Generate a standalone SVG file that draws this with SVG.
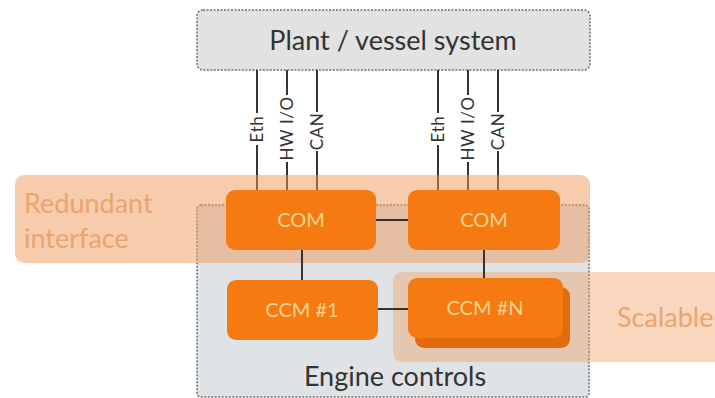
<svg xmlns="http://www.w3.org/2000/svg" width="715" height="398" viewBox="0 0 715 398">
<style>
.sys{fill:#e2e2e2;stroke:#6f6f6f;stroke-width:1.5;stroke-dasharray:2 1.5}
.band{fill:#ee9a5c;fill-opacity:0.5}
.mod{fill:#f57a12}
.shadow{fill:#e26b0c}
.big{font-family:Lato,"Noto Sans",sans-serif;font-size:27px;fill:#333333;text-anchor:middle}
.bandtxt{font-family:Lato,"Noto Sans",sans-serif;font-size:27px;fill:#eda46a}
.modtxt{font-family:Lato,"Noto Sans",sans-serif;font-size:20px;fill:#ffd38e;text-anchor:middle}
.lbl{font-family:Lato,"Noto Sans",sans-serif;font-size:17px;letter-spacing:0.6px;fill:#333333;text-anchor:middle}
.wire{stroke:#333333;stroke-width:2;fill:none}
</style>
<rect x="0" y="0" width="715" height="398" fill="#ffffff"/>
<g id="plant">
<rect class="sys" x="197" y="10" width="393" height="60" rx="6"/>
<text class="big" x="393" y="50">Plant / vessel system</text>
</g>
<g id="io-lines">
<path class="wire" d="M257 70V113M257 145V190M287 70V95M287 162V190M317 70V112M317 151V190M438 70V113M438 145V190M468 70V95M468 162V190M498 70V112M498 151V190"/>
<text class="lbl" transform="translate(257,129) rotate(-90)" x="0" y="6">Eth</text>
<text class="lbl" transform="translate(287,128.5) rotate(-90)" x="0" y="6">HW I/O</text>
<text class="lbl" transform="translate(317,131.5) rotate(-90)" x="0" y="6">CAN</text>
<text class="lbl" transform="translate(438,129) rotate(-90)" x="0" y="6">Eth</text>
<text class="lbl" transform="translate(468,128.5) rotate(-90)" x="0" y="6">HW I/O</text>
<text class="lbl" transform="translate(498,131.5) rotate(-90)" x="0" y="6">CAN</text>
</g>
<g id="engine">
<rect class="sys" x="197" y="205" width="392" height="192" rx="4" style="fill:#dfe3e6"/>
<text class="big" x="395" y="386">Engine controls</text>
</g>
<g id="redundant">
<rect class="band" x="15" y="175" width="575" height="88" rx="9"/>
<text class="bandtxt" x="24" y="213">Redundant</text>
<text class="bandtxt" x="24" y="248">interface</text>
</g>
<g id="scalable">
<rect class="band" x="393" y="272" width="330" height="90" rx="9" style="fill-opacity:0.4"/>
<text class="bandtxt" x="617" y="327">Scalable</text>
</g>
<g id="connectors">
<path class="wire" d="M376 220H408M302 250V280M484 250V278M378 309H408"/>
</g>
<g id="com1">
<rect class="mod" x="226" y="190" width="150" height="60" rx="9"/>
<text class="modtxt" x="301" y="227">COM</text>
</g>
<g id="com2">
<rect class="mod" x="408" y="190" width="152" height="60" rx="9"/>
<text class="modtxt" x="484" y="227">COM</text>
</g>
<g id="ccm1">
<rect class="mod" x="227" y="280" width="151" height="60" rx="9"/>
<text class="modtxt" x="302" y="317">CCM #1</text>
</g>
<g id="ccmn">
<rect class="shadow" x="415" y="287" width="155" height="61" rx="9"/>
<rect class="mod" x="408" y="278" width="155" height="60" rx="9"/>
<text class="modtxt" x="485" y="315">CCM #N</text>
</g>
</svg>
